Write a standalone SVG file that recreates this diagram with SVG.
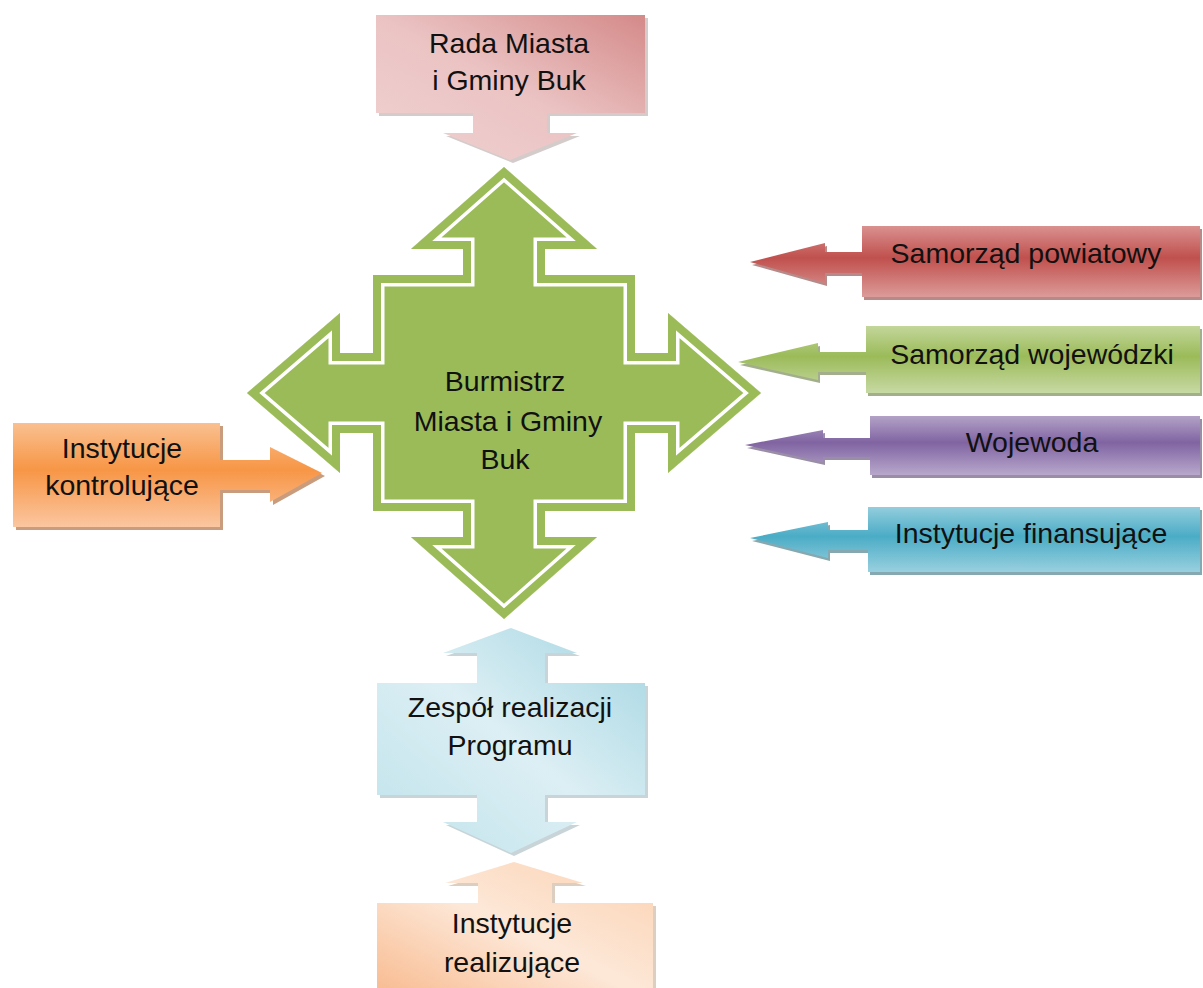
<svg xmlns="http://www.w3.org/2000/svg" xmlns:xlink="http://www.w3.org/1999/xlink" width="1203" height="988" viewBox="0 0 1203 988">
<defs>
<style>
text{font-family:"Liberation Sans",Arial,sans-serif;font-size:28.5px;fill:#111;text-anchor:middle}
.sh{opacity:0.55}
</style>
<linearGradient id="gRada" x1="0" y1="1" x2="1" y2="0"><stop offset="0" stop-color="#f0d2d2"/><stop offset="0.5" stop-color="#ebc3c3"/><stop offset="1" stop-color="#d48a89"/></linearGradient>
<linearGradient id="gRed" x1="0" y1="0" x2="0" y2="1"><stop offset="0" stop-color="#d99190"/><stop offset="0.45" stop-color="#c0504d"/><stop offset="1" stop-color="#dc9b99"/></linearGradient>
<linearGradient id="gGreen" x1="0" y1="0" x2="0" y2="1"><stop offset="0" stop-color="#c3d69b"/><stop offset="0.45" stop-color="#9bbb59"/><stop offset="1" stop-color="#c7d9a3"/></linearGradient>
<linearGradient id="gPurple" x1="0" y1="0" x2="0" y2="1"><stop offset="0" stop-color="#b3a2c7"/><stop offset="0.45" stop-color="#8064a2"/><stop offset="1" stop-color="#b8a8cb"/></linearGradient>
<linearGradient id="gTeal" x1="0" y1="0" x2="0" y2="1"><stop offset="0" stop-color="#93cddd"/><stop offset="0.45" stop-color="#4bacc6"/><stop offset="1" stop-color="#98d0df"/></linearGradient>
<linearGradient id="gOrange" x1="0" y1="0" x2="0" y2="1"><stop offset="0" stop-color="#fac090"/><stop offset="0.45" stop-color="#f79646"/><stop offset="1" stop-color="#fbc6a0"/></linearGradient>
<linearGradient id="gBlue" x1="0" y1="1" x2="1" y2="0"><stop offset="0" stop-color="#bfe2eb"/><stop offset="0.5" stop-color="#dceff4"/><stop offset="1" stop-color="#a4d5e2"/></linearGradient>
<linearGradient id="gPeach" x1="0" y1="1" x2="1" y2="0"><stop offset="0" stop-color="#f8b98d"/><stop offset="0.5" stop-color="#fde8d8"/><stop offset="1" stop-color="#fbd2b2"/></linearGradient>
<path id="cross" d="M504,167 L597,249 H545 V275 H635 V353 H668 V313 L761,393 L668,473 V433 H635 V511 H545 V537 H597 L504,619 L411,537 H463 V511 H373 V433 H340 V473 L247,393 L340,313 V353 H373 V275 H463 V249 H411 Z"/>
<clipPath id="crossClip"><path d="M504,167 L597,249 H545 V275 H635 V353 H668 V313 L761,393 L668,473 V433 H635 V511 H545 V537 H597 L504,619 L411,537 H463 V511 H373 V433 H340 V473 L247,393 L340,313 V353 H373 V275 H463 V249 H411 Z"/></clipPath>
</defs>
<rect width="1203" height="988" fill="#ffffff"/>

<g id="connectors"></g>

<g id="rada">
<path class="sh" transform="translate(3,3)" fill="#b0a0a0" d="M376,15 H645 V113 H547 V133 H577 L510,160 L443,133 H473 V113 H376 Z"/>
<path fill="url(#gRada)" d="M376,15 H645 V113 H547 V133 H577 L510,160 L443,133 H473 V113 H376 Z"/>
<text x="509" y="53">Rada Miasta</text>
<text x="509" y="90">i Gminy Buk</text>
</g>

<g id="burmistrz">
<use xlink:href="#cross" fill="#9bbb59"/>
<g clip-path="url(#crossClip)" fill="none" stroke-linejoin="miter" stroke-miterlimit="10">
<use xlink:href="#cross" stroke="#ffffff" stroke-width="23"/>
<use xlink:href="#cross" stroke="#9bbb59" stroke-width="16"/>
</g>
<text x="505" y="391">Burmistrz</text>
<text x="508" y="431">Miasta i Gminy</text>
<text x="505" y="469">Buk</text>
</g>

<g id="powiatowy">
<path class="sh" transform="translate(2,3)" fill="#7a2a28" d="M1200,226 V297 H862 V273 H825 V283 L750,262 L825,243 V252 H862 V226 Z"/>
<path fill="url(#gRed)" d="M1200,226 V297 H862 V273 H825 V283 L750,262 L825,243 V252 H862 V226 Z"/>
<text x="1026" y="263">Samorząd powiatowy</text>
</g>

<g id="wojewodzki">
<path class="sh" transform="translate(2,3)" fill="#566b2e" d="M1200,326 V393 H866 V372 H818 V380 L738,362 L818,343 V352 H866 V326 Z"/>
<path fill="url(#gGreen)" d="M1200,326 V393 H866 V372 H818 V380 L738,362 L818,343 V352 H866 V326 Z"/>
<text x="1032" y="364">Samorząd wojewódzki</text>
</g>

<g id="wojewoda">
<path class="sh" transform="translate(2,3)" fill="#45325c" d="M1200,416 V475 H870 V457 H823 V462 L745,445 L823,430 V438 H870 V416 Z"/>
<path fill="url(#gPurple)" d="M1200,416 V475 H870 V457 H823 V462 L745,445 L823,430 V438 H870 V416 Z"/>
<text x="1032" y="452">Wojewoda</text>
</g>

<g id="finansujace">
<path class="sh" transform="translate(2,3)" fill="#22606f" d="M1200,507 V572 H868 V550 H828 V558 L750,538 L828,522 V530 H868 V507 Z"/>
<path fill="url(#gTeal)" d="M1200,507 V572 H868 V550 H828 V558 L750,538 L828,522 V530 H868 V507 Z"/>
<text x="1031" y="543">Instytucje finansujące</text>
</g>

<g id="kontrolujace">
<path class="sh" transform="translate(3,3)" fill="#9a4a10" d="M13,423 H220 V460 H270 V447 L322,473 L270,502 V490 H220 V527 H13 Z"/>
<path fill="url(#gOrange)" d="M13,423 H220 V460 H270 V447 L322,473 L270,502 V490 H220 V527 H13 Z"/>
<text x="122" y="458">Instytucje</text>
<text x="122" y="495">kontrolujące</text>
</g>

<g id="zespol">
<path class="sh" transform="translate(3,3)" fill="#9ab0b6" d="M377,683 H477 V653 H443 L511,628 L577,653 H545 V683 H645 V795 H545 V822 H577 L511,853 L443,822 H477 V795 H377 Z"/>
<path fill="url(#gBlue)" d="M377,683 H477 V653 H443 L511,628 L577,653 H545 V683 H645 V795 H545 V822 H577 L511,853 L443,822 H477 V795 H377 Z"/>
<text x="510" y="717">Zespół realizacji</text>
<text x="510" y="755">Programu</text>
</g>

<g id="realizujace">
<path class="sh" transform="translate(3,3)" fill="#c0a890" d="M377,903 H478 V883 H445 L514,862 L583,883 H552 V903 H653 V1000 H377 Z"/>
<path fill="url(#gPeach)" d="M377,903 H478 V883 H445 L514,862 L583,883 H552 V903 H653 V1000 H377 Z"/>
<text x="512" y="933">Instytucje</text>
<text x="512" y="972">realizujące</text>
</g>
</svg>
